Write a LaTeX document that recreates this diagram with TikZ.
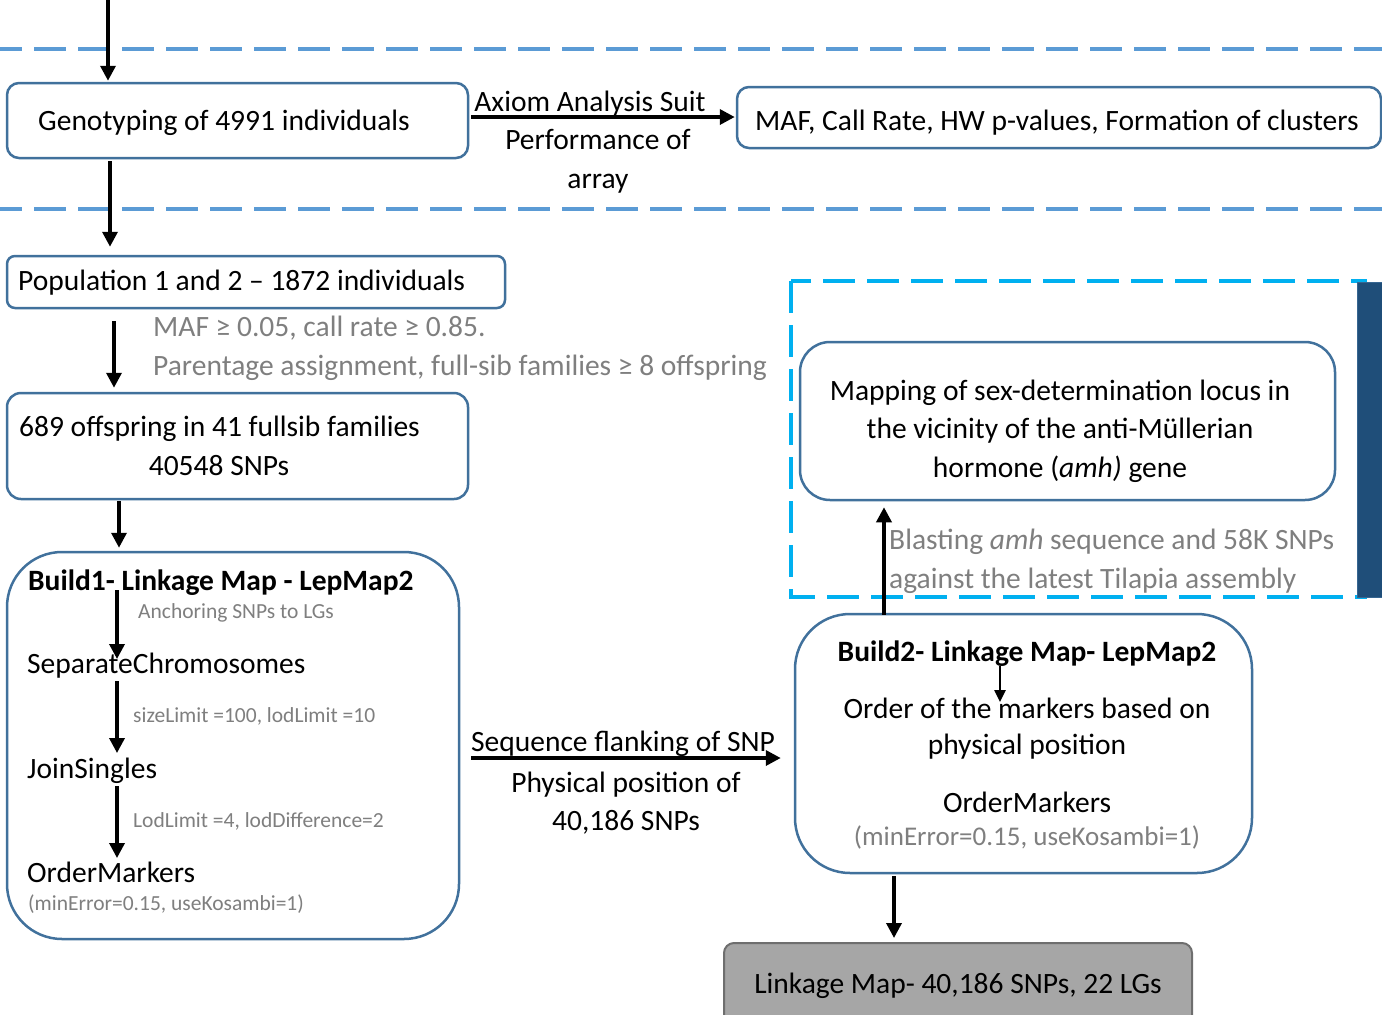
\documentclass[tikz,border=0pt]{standalone}
\usepackage{fontspec}
\setmainfont{Carlito}
\usetikzlibrary{arrows.meta}
\definecolor{boxblue}{RGB}{65,113,156}
\definecolor{dashblue}{RGB}{91,155,213}
\definecolor{cyanline}{RGB}{0,176,240}
\definecolor{darkblue}{RGB}{31,78,121}
\definecolor{greytxt}{RGB}{127,127,127}
\definecolor{greyfill}{RGB}{166,166,166}
\definecolor{greyline}{RGB}{110,110,110}
\begin{document}
\begin{tikzpicture}[x=1pt,y=-1pt,
  box/.style={draw=boxblue, line width=2.5pt, fill=white, inner sep=0pt},
  arr/.style={line width=3.5pt, -{Triangle[length=15pt,width=15pt]}},
  thinarr/.style={line width=2.5pt, -{Triangle[length=12pt,width=11pt]}},
  big/.style={font=\fontsize{29.5}{34}\selectfont, inner sep=0pt},
  bigb/.style={font=\fontsize{29.5}{34}\selectfont\bfseries, inner sep=0pt},
  bigg/.style={font=\fontsize{29.5}{34}\selectfont, inner sep=0pt, text=greytxt},
  small/.style={font=\fontsize{21.5}{25}\selectfont, inner sep=0pt, text=greytxt},
  mid/.style={font=\fontsize{27}{31}\selectfont, inner sep=0pt, text=greytxt},
  dashline/.style={draw=dashblue, line width=4pt, dash pattern=on 32pt off 12pt},
  cyandash/.style={draw=cyanline, line width=3.5pt, dash pattern=on 32pt off 12pt},
]
\useasboundingbox (0,0) rectangle (1382,1015);

% horizontal dashed separators
\draw[dashline] (-10,49) -- (1390,49);
\draw[dashline] (-10,209) -- (1390,209);

% cyan dashed frame and dark bar
\draw[cyandash] (791,281) rectangle (1365,597);
\fill[darkblue] (1357,282) rectangle (1392,598);
\draw[draw=boxblue!70!darkblue, line width=1pt] (1357.5,282.5) rectangle (1392,597.5);

% boxes
\node[box, rounded corners=12pt, minimum width=461, minimum height=75] (geno) at (237.5,120.5) {};
\node[box, rounded corners=12pt, minimum width=644, minimum height=61] (maf) at (1059,117.5) {};
\node[box, rounded corners=8pt, minimum width=498, minimum height=52] (pop) at (256,282) {};
\node[box, rounded corners=14pt, minimum width=461, minimum height=106] (off) at (237.5,446) {};
\node[box, rounded corners=55pt, minimum width=452, minimum height=387] (build1) at (233,745.5) {};
\node[box, rounded corners=55pt, minimum width=457, minimum height=259] (build2) at (1023.5,743.5) {};
\node[box, rounded corners=30pt, minimum width=535, minimum height=158] (mapping) at (1067.5,421) {};
\node[draw=greyline, fill=greyfill, line width=2pt, rounded corners=10pt, inner sep=0pt,
      minimum width=468, minimum height=84] (linkage) at (958,985) {};

% texts
\node[big, anchor=base west] (genot) at (38,130) {Genotyping of 4991 individuals};
\node[big, anchor=base] (axiom) at (590,111) {Axiom Analysis Suit};
\node[big, anchor=base] (perf) at (598,149) {Performance of};
\node[big, anchor=base] (array) at (598,188) {array};
\node[big, anchor=base] (maft) at (1057,130) {MAF, Call Rate, HW p-values, Formation of clusters};
\node[big, anchor=base west] (popt) at (18,290) {Population 1 and 2 – 1872 individuals};
\node[bigg, anchor=base west] (filt1) at (153,336) {MAF ≥ 0.05, call rate ≥ 0.85.};
\node[bigg, anchor=base west] (filt2) at (153,375) {Parentage assignment, full-sib families ≥ 8 offspring};
\node[big, anchor=base west] (offt1) at (19,436) {689 offspring in 41 fullsib families};
\node[big, anchor=base] (offt2) at (219,475) {40548 SNPs};

\node[bigb, anchor=base west] (b1t) at (28,590) {Build1- Linkage Map - LepMap2};
\node[small, anchor=base west] (anch) at (138,618) {Anchoring SNPs to LGs};
\node[big, anchor=base west] (sep) at (27,673) {SeparateChromosomes};
\node[small, anchor=base west] (size) at (133,722) {sizeLimit =100, lodLimit =10};
\node[big, anchor=base west] (join) at (27,778) {JoinSingles};
\node[small, anchor=base west] (lod) at (133,827) {LodLimit =4, lodDifference=2};
\node[big, anchor=base west] (om1) at (27,882) {OrderMarkers};
\node[small, anchor=base west] (par1) at (28,910) {(minError=0.15, useKosambi=1)};

\node[big, anchor=base] (seqt) at (623,751) {Sequence flanking of SNP};
\node[big, anchor=base] (phys1) at (626,792) {Physical position of};
\node[big, anchor=base] (phys2) at (626,830) {40,186 SNPs};

\node[bigb, anchor=base] (b2t) at (1027,661) {Build2- Linkage Map- LepMap2};
\node[big, anchor=base] (ord1) at (1027,718) {Order of the markers based on};
\node[big, anchor=base] (ord2) at (1027,754) {physical position};
\node[big, anchor=base] (om2) at (1027,812) {OrderMarkers};
\node[mid, anchor=base] (par2) at (1027,845) {(minError=0.15, useKosambi=1)};

\node[big, anchor=base] (linkt) at (958,993) {Linkage Map- 40,186 SNPs, 22 LGs};

\node[big, anchor=base] (map1) at (1060,400) {Mapping of sex-determination locus in};
\node[big, anchor=base] (map2) at (1060,438) {the vicinity of the anti-Müllerian};
\node[big, anchor=base] (map3) at (1060,477) {hormone (\textit{amh)} gene};

\node[bigg, anchor=base west] (blast1) at (889,549) {Blasting \textit{amh} sequence and 58K SNPs};
\node[bigg, anchor=base west] (blast2) at (889,588) {against the latest Tilapia assembly};

% connectors
\coordinate (topin) at (108,0);
\draw[arr, shorten >=1pt] (topin) -- (topin |- geno.north);

\coordinate (c2) at (110,0);
\draw[arr, shorten <=2pt, shorten >=8pt] (c2 |- geno.south) -- (c2 |- pop.north);

\coordinate (r1) at (0,117);
\draw[arr, shorten <=2pt, shorten >=1pt] (geno.east |- r1) -- (maf.west |- r1);

\coordinate (c3) at (114,0);
\draw[arr, shorten <=12pt, shorten >=4pt] (c3 |- pop.south) -- (c3 |- off.north);

\coordinate (c4) at (119,0);
\draw[arr, shorten <=1pt, shorten >=3pt] (c4 |- off.south) -- (c4 |- build1.north);

\coordinate (c5) at (117,0);
\draw[arr, shorten <=0pt, shorten >=14pt] (c5 |- b1t.base) -- (c5 |- sep.base);
\draw[arr, shorten <=8pt, shorten >=25pt] (c5 |- sep.base) -- (c5 |- join.base);
\draw[arr, shorten <=8pt, shorten >=24pt] (c5 |- join.base) -- (c5 |- om1.base);

\coordinate (r2) at (0,758);
\draw[arr, shorten <=11pt, shorten >=13pt] (build1.east |- r2) -- (build2.west |- r2);

\coordinate (c6) at (1000,0);
\draw[thinarr, shorten <=5pt, shorten >=16pt] (c6 |- b2t.base) -- (c6 |- ord1.base);

\coordinate (c7) at (894,0);
\draw[arr, shorten <=2pt, shorten >=4pt] (c7 |- build2.south) -- (c7 |- linkage.north);

\coordinate (c8) at (884,0);
\draw[arr, shorten <=-2pt, shorten >=6pt] (c8 |- build2.north) -- (c8 |- mapping.south);

\end{tikzpicture}
\end{document}
